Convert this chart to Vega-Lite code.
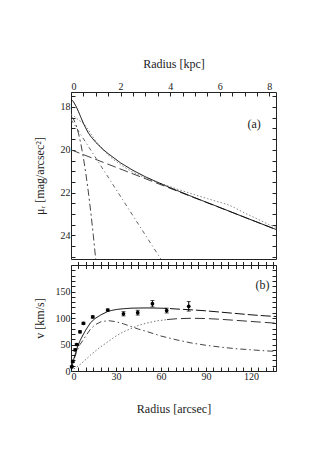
{
  "$schema": "https://vega.github.io/schema/vega-lite/v6.json",
  "background": "white",
  "padding": {"left": 32, "top": 56, "right": 0, "bottom": 0},
  "spacing": 0,
  "config": {
    "font": "Liberation Serif",
    "view": {"stroke": "#222", "strokeWidth": 1},
    "axis": {"grid": false, "labelFont": "Liberation Serif", "labelFontSize": 10, "labelColor": "#222", "tickColor": "#222", "tickWidth": 1, "titleFont": "Liberation Serif", "titleFontSize": 12, "titleFontWeight": "normal", "titleColor": "#222"}
  },
  "resolve": {"scale": {"x": "independent", "y": "independent", "color": "independent", "strokeDash": "independent"}},
  "datasets": {
    "profile": [
      {"comp": "observed", "r": 0, "mu": 18.35}, {"comp": "observed", "r": 0.15, "mu": 18.45}, {"comp": "observed", "r": 0.3, "mu": 18.6}, {"comp": "observed", "r": 0.45, "mu": 18.72}, {"comp": "observed", "r": 0.6, "mu": 18.9}, {"comp": "observed", "r": 0.8, "mu": 19.25}, {"comp": "observed", "r": 1.0, "mu": 19.6}, {"comp": "observed", "r": 1.3, "mu": 20.0}, {"comp": "observed", "r": 1.6, "mu": 20.35}, {"comp": "observed", "r": 2.0, "mu": 20.7}, {"comp": "observed", "r": 2.5, "mu": 21.05}, {"comp": "observed", "r": 3.0, "mu": 21.32}, {"comp": "observed", "r": 3.5, "mu": 21.52}, {"comp": "observed", "r": 4.0, "mu": 21.72}, {"comp": "observed", "r": 4.5, "mu": 21.92}, {"comp": "observed", "r": 5.0, "mu": 22.1}, {"comp": "observed", "r": 5.5, "mu": 22.28}, {"comp": "observed", "r": 6.0, "mu": 22.45}, {"comp": "observed", "r": 6.3, "mu": 22.55}, {"comp": "observed", "r": 6.6, "mu": 22.7}, {"comp": "observed", "r": 7.0, "mu": 22.95}, {"comp": "observed", "r": 7.5, "mu": 23.22}, {"comp": "observed", "r": 8.0, "mu": 23.5}, {"comp": "observed", "r": 8.27, "mu": 23.62},
      {"comp": "disk", "r": 0, "mu": 20.0}, {"comp": "disk", "r": 8.27, "mu": 23.72},
      {"comp": "bulge2", "r": 0, "mu": 18.58}, {"comp": "bulge2", "r": 3.65, "mu": 25.15},
      {"comp": "bulge1", "r": 0, "mu": 18.45}, {"comp": "bulge1", "r": 0.1, "mu": 18.56}, {"comp": "bulge1", "r": 0.2, "mu": 18.82}, {"comp": "bulge1", "r": 0.3, "mu": 19.22}, {"comp": "bulge1", "r": 0.4, "mu": 19.74}, {"comp": "bulge1", "r": 0.5, "mu": 20.37}, {"comp": "bulge1", "r": 0.6, "mu": 21.12}, {"comp": "bulge1", "r": 0.7, "mu": 21.97}, {"comp": "bulge1", "r": 0.8, "mu": 22.93}, {"comp": "bulge1", "r": 0.9, "mu": 23.99}, {"comp": "bulge1", "r": 1.0, "mu": 25.15},
      {"comp": "total", "r": 0, "mu": 17.63}, {"comp": "total", "r": 0.1, "mu": 17.76}, {"comp": "total", "r": 0.2, "mu": 17.96}, {"comp": "total", "r": 0.3, "mu": 18.21}, {"comp": "total", "r": 0.4, "mu": 18.49}, {"comp": "total", "r": 0.5, "mu": 18.76}, {"comp": "total", "r": 0.6, "mu": 19.0}, {"comp": "total", "r": 0.7, "mu": 19.21}, {"comp": "total", "r": 0.8, "mu": 19.38}, {"comp": "total", "r": 1.0, "mu": 19.65}, {"comp": "total", "r": 1.25, "mu": 19.94}, {"comp": "total", "r": 1.5, "mu": 20.18}, {"comp": "total", "r": 2.0, "mu": 20.61}, {"comp": "total", "r": 2.5, "mu": 20.96}, {"comp": "total", "r": 3.0, "mu": 21.26}, {"comp": "total", "r": 3.5, "mu": 21.52}, {"comp": "total", "r": 4.0, "mu": 21.77}, {"comp": "total", "r": 5.0, "mu": 22.24}, {"comp": "total", "r": 6.0, "mu": 22.69}, {"comp": "total", "r": 7.0, "mu": 23.15}, {"comp": "total", "r": 8.0, "mu": 23.6}, {"comp": "total", "r": 8.27, "mu": 23.72}
    ],
    "curves": [
      {"comp": "disk", "r": 0, "v": 0}, {"comp": "disk", "r": 2, "v": 4}, {"comp": "disk", "r": 4, "v": 8}, {"comp": "disk", "r": 6, "v": 12}, {"comp": "disk", "r": 8, "v": 17}, {"comp": "disk", "r": 10, "v": 22}, {"comp": "disk", "r": 13, "v": 30}, {"comp": "disk", "r": 16, "v": 37}, {"comp": "disk", "r": 20, "v": 46}, {"comp": "disk", "r": 25, "v": 56}, {"comp": "disk", "r": 30, "v": 66}, {"comp": "disk", "r": 35, "v": 74}, {"comp": "disk", "r": 40, "v": 80}, {"comp": "disk", "r": 45, "v": 86}, {"comp": "disk", "r": 50, "v": 90}, {"comp": "disk", "r": 57, "v": 94.5}, {"comp": "disk", "r": 64, "v": 97},
      {"comp": "disk_ext", "r": 64, "v": 97}, {"comp": "disk_ext", "r": 70, "v": 98.5}, {"comp": "disk_ext", "r": 80, "v": 99.5}, {"comp": "disk_ext", "r": 90, "v": 99}, {"comp": "disk_ext", "r": 100, "v": 97.5}, {"comp": "disk_ext", "r": 110, "v": 95.5}, {"comp": "disk_ext", "r": 120, "v": 93.5}, {"comp": "disk_ext", "r": 130, "v": 91.5}, {"comp": "disk_ext", "r": 136.7, "v": 90.2},
      {"comp": "bulge", "r": 0, "v": 0}, {"comp": "bulge", "r": 2, "v": 22}, {"comp": "bulge", "r": 4, "v": 38}, {"comp": "bulge", "r": 6, "v": 50}, {"comp": "bulge", "r": 8, "v": 58}, {"comp": "bulge", "r": 10, "v": 67}, {"comp": "bulge", "r": 13, "v": 79}, {"comp": "bulge", "r": 16, "v": 87}, {"comp": "bulge", "r": 20, "v": 93}, {"comp": "bulge", "r": 25, "v": 95}, {"comp": "bulge", "r": 30, "v": 93}, {"comp": "bulge", "r": 35, "v": 89}, {"comp": "bulge", "r": 40, "v": 84}, {"comp": "bulge", "r": 45, "v": 79}, {"comp": "bulge", "r": 50, "v": 75}, {"comp": "bulge", "r": 60, "v": 66}, {"comp": "bulge", "r": 70, "v": 59}, {"comp": "bulge", "r": 80, "v": 53}, {"comp": "bulge", "r": 90, "v": 48.5}, {"comp": "bulge", "r": 100, "v": 45}, {"comp": "bulge", "r": 110, "v": 42}, {"comp": "bulge", "r": 120, "v": 40}, {"comp": "bulge", "r": 130, "v": 38}, {"comp": "bulge", "r": 136.7, "v": 37},
      {"comp": "total", "r": 0, "v": 0}, {"comp": "total", "r": 2, "v": 24}, {"comp": "total", "r": 4, "v": 43}, {"comp": "total", "r": 6, "v": 57}, {"comp": "total", "r": 8, "v": 68}, {"comp": "total", "r": 10, "v": 78}, {"comp": "total", "r": 13, "v": 91}, {"comp": "total", "r": 16, "v": 99}, {"comp": "total", "r": 20, "v": 106}, {"comp": "total", "r": 25, "v": 113}, {"comp": "total", "r": 30, "v": 116}, {"comp": "total", "r": 35, "v": 117.5}, {"comp": "total", "r": 40, "v": 118.5}, {"comp": "total", "r": 45, "v": 118.8}, {"comp": "total", "r": 50, "v": 119}, {"comp": "total", "r": 55, "v": 118.8}, {"comp": "total", "r": 60, "v": 118.5}, {"comp": "total", "r": 64, "v": 118},
      {"comp": "total_ext", "r": 66, "v": 117.8}, {"comp": "total_ext", "r": 70, "v": 117}, {"comp": "total_ext", "r": 80, "v": 115.5}, {"comp": "total_ext", "r": 90, "v": 113.5}, {"comp": "total_ext", "r": 100, "v": 111}, {"comp": "total_ext", "r": 110, "v": 108.5}, {"comp": "total_ext", "r": 120, "v": 106}, {"comp": "total_ext", "r": 130, "v": 104}, {"comp": "total_ext", "r": 136.7, "v": 102.8}
    ],
    "rc": [
      {"r": 0.5, "v": 8, "lo": 6, "hi": 10}, {"r": 1.2, "v": 18, "lo": 16, "hi": 20}, {"r": 2.8, "v": 40, "lo": 38, "hi": 42}, {"r": 3.8, "v": 50, "lo": 48, "hi": 52}, {"r": 6, "v": 74, "lo": 72, "hi": 76}, {"r": 8.3, "v": 90, "lo": 88, "hi": 92}, {"r": 14.5, "v": 102, "lo": 100, "hi": 104}, {"r": 24.5, "v": 115, "lo": 113, "hi": 117}, {"r": 35, "v": 108, "lo": 104, "hi": 112}, {"r": 44.5, "v": 110, "lo": 105.5, "hi": 114.5}, {"r": 54.3, "v": 127, "lo": 121, "hi": 133}, {"r": 63.8, "v": 114, "lo": 109.5, "hi": 118.5}, {"r": 78.5, "v": 122, "lo": 113, "hi": 131}
    ]
  },
  "vconcat": [
    {
      "width": 205,
      "height": 167,
      "layer": [
        {
          "data": {"name": "profile"},
          "mark": {"type": "line", "clip": true, "strokeWidth": 1},
          "encoding": {
            "x": {"field": "r", "type": "quantitative", "scale": {"domain": [0, 8.27], "nice": false, "zero": false},
              "axis": {"orient": "top", "values": [0, 0.5, 1, 1.5, 2, 2.5, 3, 3.5, 4, 4.5, 5, 5.5, 6, 6.5, 7, 7.5, 8], "format": ".0f", "labelExpr": "datum.value % 2 === 0 ? datum.label : ''", "tickSize": -4, "domain": false, "labelPadding": 5, "title": "Radius [kpc]", "titleX": 102.5, "titleY": -29, "titleBaseline": "middle", "titleAlign": "center"}},
            "y": {"field": "mu", "type": "quantitative", "scale": {"domain": [17.3, 25.1], "reverse": true, "nice": false, "zero": false},
              "axis": {"orient": "left", "values": [17.5, 18, 18.5, 19, 19.5, 20, 20.5, 21, 21.5, 22, 22.5, 23, 23.5, 24, 24.5, 25], "format": ".0f", "labelExpr": "datum.value % 2 === 0 ? datum.label : ''", "tickSize": -4, "domain": false, "labelPadding": 5, "title": "μᵣ [mag/arcsec²]", "titleX": -31.5, "titleY": 83.5, "titleBaseline": "middle", "titleAlign": "center", "titleAngle": -90}},
            "strokeDash": {"field": "comp", "type": "nominal", "legend": null, "scale": {"domain": ["observed", "disk", "bulge2", "bulge1", "total"], "range": [[1.5, 2], [9, 4], [4, 3, 1, 3], [7, 3, 2, 3], [1, 0]]}},
            "color": {"field": "comp", "type": "nominal", "legend": null, "scale": {"domain": ["observed", "disk", "bulge2", "bulge1", "total"], "range": ["#888888", "#444444", "#666666", "#444444", "#000000"]}}
          }
        },
        {
          "data": {"values": [{"label": "(a)"}]},
          "mark": {"type": "text", "font": "Liberation Serif", "fontSize": 12, "color": "#222"},
          "encoding": {
            "x": {"datum": 7.39, "type": "quantitative", "axis": null},
            "y": {"datum": 18.79, "type": "quantitative", "axis": {"orient": "right", "values": [17.5, 18, 18.5, 19, 19.5, 20, 20.5, 21, 21.5, 22, 22.5, 23, 23.5, 24, 24.5, 25], "labels": false, "tickSize": -4, "domain": false, "title": null}},
            "text": {"field": "label"}
          }
        }
      ],
      "resolve": {"axis": {"x": "independent", "y": "independent"}}
    },
    {
      "width": 205,
      "height": 106,
      "layer": [
        {
          "data": {"name": "curves"},
          "mark": {"type": "line", "clip": true, "strokeWidth": 1},
          "encoding": {
            "x": {"field": "r", "type": "quantitative", "scale": {"domain": [0, 136.7], "nice": false, "zero": false},
              "axis": {"orient": "bottom", "values": [0, 5, 10, 15, 20, 25, 30, 35, 40, 45, 50, 55, 60, 65, 70, 75, 80, 85, 90, 95, 100, 105, 110, 115, 120, 125, 130, 135], "labelExpr": "datum.value % 30 === 0 ? datum.label : ''", "tickSize": -4, "domain": false, "labelPadding": 4, "title": "Radius [arcsec]", "titleX": 102.5, "titleY": 37, "titleBaseline": "middle", "titleAlign": "center"}},
            "y": {"field": "v", "type": "quantitative", "scale": {"domain": [0, 200], "nice": false, "zero": false},
              "axis": {"orient": "left", "values": [0, 10, 20, 30, 40, 50, 60, 70, 80, 90, 100, 110, 120, 130, 140, 150, 160, 170, 180, 190, 200], "labelExpr": "datum.value % 50 === 0 && datum.value < 200 ? datum.label : ''", "tickSize": -4, "domain": false, "labelPadding": 5, "title": "v [km/s]", "titleX": -32, "titleY": 53, "titleBaseline": "middle", "titleAlign": "center", "titleAngle": -90}},
            "strokeDash": {"field": "comp", "type": "nominal", "legend": null, "scale": {"domain": ["disk", "disk_ext", "bulge", "total", "total_ext"], "range": [[1.5, 2], [10, 4], [6, 3, 1.5, 3], [1, 0], [10, 3]]}},
            "color": {"field": "comp", "type": "nominal", "legend": null, "scale": {"domain": ["disk", "disk_ext", "bulge", "total", "total_ext"], "range": ["#777777", "#333333", "#444444", "#000000", "#111111"]}}
          }
        },
        {
          "data": {"name": "rc"},
          "mark": {"type": "errorbar", "ticks": {"size": 4}, "color": "#000000"},
          "encoding": {
            "x": {"field": "r", "type": "quantitative", "axis": null},
            "y": {"field": "lo", "type": "quantitative", "axis": null},
            "y2": {"field": "hi"}
          }
        },
        {
          "data": {"name": "rc"},
          "mark": {"type": "circle", "size": 14, "color": "#000000", "opacity": 1},
          "encoding": {
            "x": {"field": "r", "type": "quantitative", "axis": null},
            "y": {"field": "v", "type": "quantitative", "axis": null}
          }
        },
        {
          "data": {"values": [{"label": "(b)"}]},
          "mark": {"type": "text", "font": "Liberation Serif", "fontSize": 12, "color": "#222"},
          "encoding": {
            "x": {"datum": 127.7, "type": "quantitative", "axis": {"orient": "top", "values": [5, 10, 15, 20, 25, 30, 35, 40, 45, 50, 55, 60, 65, 70, 75, 80, 85, 90, 95, 100, 105, 110, 115, 120, 125, 130, 135], "labels": false, "tickSize": 7, "offset": -3.5, "domain": false, "title": null}},
            "y": {"datum": 162.6, "type": "quantitative", "axis": {"orient": "right", "values": [0, 10, 20, 30, 40, 50, 60, 70, 80, 90, 100, 110, 120, 130, 140, 150, 160, 170, 180, 190, 200], "labels": false, "tickSize": -4, "domain": false, "title": null}},
            "text": {"field": "label"}
          }
        }
      ],
      "resolve": {"axis": {"x": "independent", "y": "independent"}}
    }
  ]
}
